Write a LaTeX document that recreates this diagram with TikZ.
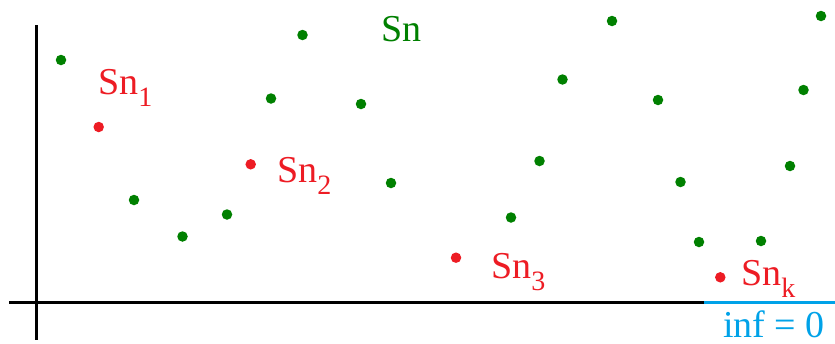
\documentclass[tikz,border=0pt]{standalone}
\usepackage{fontspec}
\setmainfont{Liberation Serif}
\definecolor{dgreen}{RGB}{0,128,0}
\definecolor{dred}{RGB}{237,28,36}
\definecolor{dblue}{RGB}{0,162,232}
\newcommand{\subsc}[1]{\raisebox{-12pt}{\fontsize{28}{28}\selectfont #1}}
\tikzset{
  gdot/.style={circle,fill=dgreen,inner sep=0pt,minimum size=10.5pt},
  rdot/.style={circle,fill=dred,inner sep=0pt,minimum size=10.5pt},
  lbl/.style={anchor=base west,inner sep=0pt,font=\fontsize{38}{40}\selectfont},
  axis/.style={line width=3pt}
}
\begin{document}
\begin{tikzpicture}[x=1pt,y=-1pt]
\useasboundingbox (0,0) rectangle (835,343);
% axes
\coordinate (ytop) at (36,25);
\coordinate (ybot) at (36,340);
\coordinate (xl) at (9,302);
\coordinate (xm) at (704,302);
\coordinate (xr) at (835,302);
\draw[axis] (ytop) -- (ybot);
\draw[axis] (xl) -- (xm);
\draw[axis,dblue] (xm) -- (xr);
% green dots
\node[gdot] (g1) at (61,60) {};
\node[gdot] (g2) at (302.5,35) {};
\node[gdot] (g3) at (271,98.5) {};
\node[gdot] (g4) at (361,104) {};
\node[gdot] (g5) at (134,200) {};
\node[gdot] (g6) at (182.5,236.5) {};
\node[gdot] (g7) at (227,214.5) {};
\node[gdot] (g8) at (391,183) {};
\node[gdot] (g9) at (511,217.5) {};
\node[gdot] (g10) at (539.5,161) {};
\node[gdot] (g11) at (562.5,79.5) {};
\node[gdot] (g12) at (612,21) {};
\node[gdot] (g13) at (658,100) {};
\node[gdot] (g14) at (680.5,182) {};
\node[gdot] (g15) at (699,242) {};
\node[gdot] (g16) at (761,241) {};
\node[gdot] (g17) at (790,166) {};
\node[gdot] (g18) at (803.5,90) {};
\node[gdot] (g19) at (821,16) {};
% red dots
\node[rdot] (r1) at (98.7,127) {};
\node[rdot] (r2) at (250.7,164.3) {};
\node[rdot] (r3) at (456,257.7) {};
\node[rdot] (r4) at (720.3,277.3) {};
% labels
\node[lbl,text=dgreen] (ls) at (381,41) {Sn};
\node[lbl,text=dred] (l1) at (98,94) {Sn\subsc{1}};
\node[lbl,text=dred] (l2) at (277,182) {Sn\subsc{2}};
\node[lbl,text=dred] (l3) at (491,278) {Sn\subsc{3}};
\node[lbl,text=dred] (lk) at (741,285.5) {Sn\subsc{k}};
\node[lbl,text=dblue] (linf) at (723,337.5) {inf = 0};
\end{tikzpicture}
\end{document}
